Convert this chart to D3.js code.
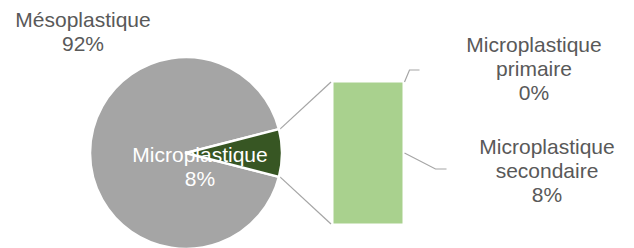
<!DOCTYPE html>
<html lang="fr">
<head>
<meta charset="UTF-8">
<title>Pie of bar</title>
<script src="https://d3js.org/d3.v7.min.js"></script>
<style>
  body { margin: 0; background: #fff; }
  svg text { font-family: "Liberation Sans", Arial, sans-serif; }
</style>
</head>
<body>
<svg class="chart"></svg>
<script>
// donnees
const pieLabels = ["Mésoplastique", "Microplastique"];
const pieValues = [92, 8];
const barLabels = ["Microplastique primaire", "Microplastique secondaire"];
const barValues = [0, 8];

const width = 634, height = 248;
const svg = d3.select('.chart').attr('width', width).attr('height', height);

const cx = 186, cy = 153, r = 96;
const grey = '#a5a5a5', txt = '#595959';

// pie : la part "Microplastique" centree a droite
const share = pieValues[1] / d3.sum(pieValues);
const start = Math.PI / 2 + share * Math.PI;
const pie = d3.pie().sort(null).startAngle(start).endAngle(start + 2 * Math.PI);
const arcs = pie(pieValues);
const arc = d3.arc().innerRadius(0).outerRadius(r);

// barre empilee
const barX0 = 333, barW = 70;
const y = d3.scaleLinear().domain([0, d3.sum(barValues)]).range([224, 82]);
let acc = 0;
const stack = barValues.slice().reverse().map((v, i) => {
  const o = { label: barLabels[barValues.length - 1 - i], value: v, y0: acc, y1: acc + v };
  acc += v;
  return o;
}).reverse();

// lignes de liaison (sous la pie)
const micro = arcs[1];
const corner = a => [cx + r * Math.sin(a), cy - r * Math.cos(a)];
const topC = corner(micro.startAngle), botC = corner(micro.endAngle);
const g = svg.append('g');
g.append('line')
  .attr('x1', topC[0] + 1).attr('y1', topC[1])
  .attr('x2', barX0 - 2).attr('y2', y(d3.sum(barValues)))
  .attr('stroke', grey).attr('stroke-width', 1.2);
g.append('line')
  .attr('x1', botC[0] + 1).attr('y1', botC[1])
  .attr('x2', barX0 - 2).attr('y2', y(0))
  .attr('stroke', grey).attr('stroke-width', 1.2);

svg.append('g').attr('transform', `translate(${cx},${cy})`)
  .selectAll('path').data(arcs).enter().append('path')
  .attr('d', arc)
  .attr('fill', (d, i) => i === 0 ? grey : '#375623')
  .attr('stroke', '#fff').attr('stroke-width', 2.5)
  .attr('stroke-linejoin', 'round');

svg.append('g').selectAll('rect').data(stack).enter().append('rect')
  .attr('x', barX0).attr('width', barW)
  .attr('y', d => y(d.y1))
  .attr('height', d => y(d.y0) - y(d.y1))
  .attr('fill', '#a9d18e')
  .attr('stroke', '#fff').attr('stroke-width', 1);

// lignes de rappel des etiquettes
const bx1 = barX0 + barW + 1.5;
const leaders = [
  [[bx1, y(stack[0].y1)], [bx1 + 5, y(stack[0].y1) - 12], [bx1 + 15, y(stack[0].y1) - 12]],
  [[bx1, y((stack[1].y0 + stack[1].y1) / 2)], [bx1 + 31, y((stack[1].y0 + stack[1].y1) / 2) + 16], [bx1 + 42, y((stack[1].y0 + stack[1].y1) / 2) + 16]]
];
svg.append('g').selectAll('path').data(leaders).enter().append('path')
  .attr('d', d3.line())
  .attr('fill', 'none').attr('stroke', grey).attr('stroke-width', 1.2);

// etiquettes
function label(x, y0, lines, color) {
  const t = svg.append('text')
    .attr('x', x).attr('y', y0)
    .attr('text-anchor', 'middle')
    .attr('font-size', 21)
    .attr('fill', color);
  lines.forEach((l, i) => {
    t.append('tspan').attr('x', x).attr('dy', i === 0 ? 0 : 24).text(l);
  });
}
const pct = v => Math.round(v) + '%';
label(83, 27, [pieLabels[0], pct(pieValues[0])], txt);
label(200, 162, [pieLabels[1], pct(pieValues[1])], '#fff');
label(534, 52, ['Microplastique', 'primaire', pct(barValues[0])], txt);
label(547, 154, ['Microplastique', 'secondaire', pct(barValues[1])], txt);
</script>
</body>
</html>
